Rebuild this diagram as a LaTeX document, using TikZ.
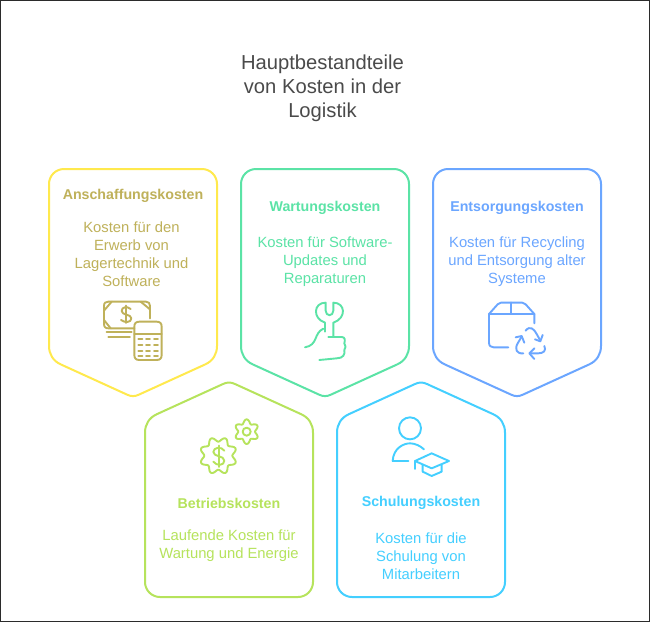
\documentclass[tikz,border=0pt]{standalone}
\usepackage{fontspec}
\setmainfont{Liberation Sans}
\definecolor{frameC}{HTML}{2B2B2B}
\definecolor{titleC}{HTML}{4A4A4A}
\definecolor{yel}{HTML}{FFE94D}
\definecolor{yelT}{HTML}{BFB15A}
\definecolor{grn}{HTML}{5BE3A6}
\definecolor{blu}{HTML}{6BA6FF}
\definecolor{lim}{HTML}{B6E35C}
\definecolor{cya}{HTML}{44CFFF}
\tikzset{
  card/.style={line width=2pt,fill=white,line join=round},
  ttl/.style={font=\fontsize{20.2}{24}\selectfont,text=titleC,anchor=base},
  head/.style={font=\fontsize{14.2}{18}\selectfont\bfseries,anchor=center},
  body/.style={font=\fontsize{14.8}{18}\selectfont,align=center,anchor=center},
  ic/.style={line width=1.9pt,line cap=round,line join=round},
}
\newcommand{\cardDown}[2]{\draw[card,draw=#2]
  (#1-69,169) -- (#1+69,169) .. controls (#1+77.3,169) and (#1+84,175.7) .. (#1+84,184)
  -- (#1+84,346) .. controls (#1+84,354) and (#1+80,361) .. (#1+72,364.5)
  -- (#1+6,394.6) .. controls (#1+2,396.6) and (#1-2,396.6) .. (#1-6,394.6)
  -- (#1-72,364.5) .. controls (#1-80,361) and (#1-84,354) .. (#1-84,346)
  -- (#1-84,184) .. controls (#1-84,175.7) and (#1-77.3,169) .. (#1-69,169) -- cycle;}
\newcommand{\cardUp}[2]{\draw[card,draw=#2]
  (#1-6,384) .. controls (#1-2,382) and (#1+2,382) .. (#1+6,384)
  -- (#1+72,414.1) .. controls (#1+80,417.6) and (#1+84,424.6) .. (#1+84,432.6)
  -- (#1+84,582) .. controls (#1+84,590.3) and (#1+77.3,597) .. (#1+69,597)
  -- (#1-69,597) .. controls (#1-77.3,597) and (#1-84,590.3) .. (#1-84,582)
  -- (#1-84,432.6) .. controls (#1-84,424.6) and (#1-80,417.6) .. (#1-72,414.1) -- cycle;}
\begin{document}
\begin{tikzpicture}[x=1pt,y=-1pt]
\useasboundingbox (0,0) rectangle (650,622);
\draw[frameC,line width=1.2pt] (0.6,0.6) rectangle (649.4,621.4);
\node[ttl] (t1) at (322.5,69) {Hauptbestandteile};
\node[ttl] (t2) at (322.5,93) {von Kosten in der};
\node[ttl] (t3) at (322.5,117) {Logistik};
\cardDown{133}{yel}
\cardDown{325}{grn}
\cardDown{517}{blu}
\cardUp{229}{lim}
\cardUp{421}{cya}
\node[head,text=yelT] (h1) at (133,195.5) {Anschaffungskosten};
\node[body,text=yelT] (b1) at (131.5,254) {Kosten für den\\Erwerb von\\Lagertechnik und\\Software};
\node[head,text=grn] (h2) at (325,207.5) {Wartungskosten};
\node[body,text=grn] (b2) at (325,261.5) {Kosten für Software-\\Updates und\\Reparaturen};
\node[head,text=blu] (h3) at (517,207.5) {Entsorgungskosten};
\node[body,text=blu] (b3) at (517,261.5) {Kosten für Recycling\\und Entsorgung alter\\Systeme};
\node[head,text=lim] (h4) at (229,503) {Betriebskosten};
\node[body,text=lim] (b4) at (229,545.5) {Laufende Kosten für\\Wartung und Energie};
\node[head,text=cya] (h5) at (421,503) {Schulungskosten};
\node[body,text=cya] (b5) at (421,556) {Kosten für die\\Schulung von\\Mitarbeitern};
% icon 1: money + calculator
\begin{scope}[ic,draw=yelT,shift={(90,290)},x=0.3333pt,y=-0.3333pt]
\draw (133,115) -- (55,115) .. controls (45,115) and (42,110) .. (42,100) -- (42,48) .. controls (42,38) and (47,35) .. (55,35) -- (168,35) .. controls (176,35) and (180,40) .. (180,48) -- (180,85);
\draw (42,62) -- (65,35);
\draw (152,35) -- (180,58);
\draw (42,90) -- (62,115);
\draw (50,125) -- (125,125);
\draw (55,141) -- (120,141);
\draw (122,57) .. controls (112,48) and (95,50) .. (95,63) .. controls (95,76) and (124,72) .. (124,85) .. controls (124,98) and (104,99) .. (93,90);
\draw (109,47) -- (109,99);
\draw (148,95) -- (200,95) .. controls (210,95) and (215,100) .. (215,110) -- (215,195) .. controls (215,205) and (210,210) .. (200,210) -- (148,210) .. controls (138,210) and (133,205) .. (133,195) -- (133,110) .. controls (133,100) and (138,95) .. (148,95) -- cycle;
\draw (133,133) -- (215,133);
\foreach \yy in {148,165,182,197}{
  \draw (145,\yy) -- (157,\yy);
  \draw (168,\yy) -- (180,\yy);
  \draw (192,\yy) -- (204,\yy);
}
\end{scope}
% icon 2: wrench
\begin{scope}[ic,draw=grn,shift={(290,290)},x=0.3333pt,y=-0.3333pt]
\draw (105,125) -- (105,98) .. controls (67,85) and (70,38) .. (107,38) -- (107,62) .. controls (107,80) and (130,80) .. (130,62) -- (130,38) .. controls (167,38) and (170,85) .. (130,98) -- (130,140);
\draw (45,172) .. controls (85,165) and (70,130) .. (100,116);
\draw (115,141) -- (155,141) .. controls (165,141) and (166,150) .. (163,160) .. controls (168,166) and (168,175) .. (163,180) .. controls (166,192) and (160,205) .. (140,205) -- (88,210);
\end{scope}
% icon 3: box + recycling
\begin{scope}[ic,draw=blu,shift={(475,290)},x=0.3333pt,y=-0.3333pt]
\draw (42,72) -- (68,43) .. controls (71,39) and (74,38) .. (78,38) -- (142,38) .. controls (146,38) and (149,39) .. (152,43) -- (178,72) -- (178,100);
\draw (42,72) -- (178,72);
\draw (108,38) -- (108,72);
\draw (42,72) -- (42,158) .. controls (42,168) and (48,172) .. (56,172) -- (100,172);
\draw (152,122) .. controls (165,105) and (178,118) .. (185,132) -- (195,150);
\draw (180,148) -- (196,154) -- (203,135);
\draw (140,140) -- (128,160) .. controls (118,178) and (125,192) .. (145,190);
\draw (122,142) -- (140,138) -- (148,158);
\draw (208,168) .. controls (215,182) and (205,190) .. (190,190) -- (165,190);
\draw (178,175) -- (163,190) -- (178,207);
\end{scope}
% icon 4: gears
\begin{scope}[ic,draw=lim,shift={(185,405)},x=0.3333pt,y=-0.3333pt]
\draw plot[smooth,domain=0:356,samples=90] ({100+(49+7*cos(8*\x+180))*cos(\x)},{152+(49+7*cos(8*\x+180))*sin(\x)}) -- cycle;
\draw plot[smooth,domain=0:355,samples=72] ({185+(31+6*cos(6*\x+180))*cos(\x)},{80+(31+6*cos(6*\x+180))*sin(\x)}) -- cycle;
\draw (185,80) circle[radius=12];
\draw (118,137) .. controls (110,124) and (85,126) .. (85,141) .. controls (85,156) and (118,151) .. (118,167) .. controls (118,182) and (95,184) .. (85,170);
\draw (101,122) -- (101,186);
\end{scope}
% icon 5: person + cap
\begin{scope}[ic,draw=cya,shift={(380,405)},x=0.3333pt,y=-0.3333pt]
\draw (90,70) circle[radius=33];
\draw (85,168) -- (38,168) .. controls (40,130) and (70,115) .. (90,115) .. controls (105,115) and (120,122) .. (132,133);
\draw (105,168) -- (155,145) -- (207,168) -- (155,190) -- cycle;
\draw (105,168) -- (105,192);
\draw (128,180) -- (128,200) -- (155,213) -- (185,200) -- (185,180);
\end{scope}
\end{tikzpicture}
\end{document}
